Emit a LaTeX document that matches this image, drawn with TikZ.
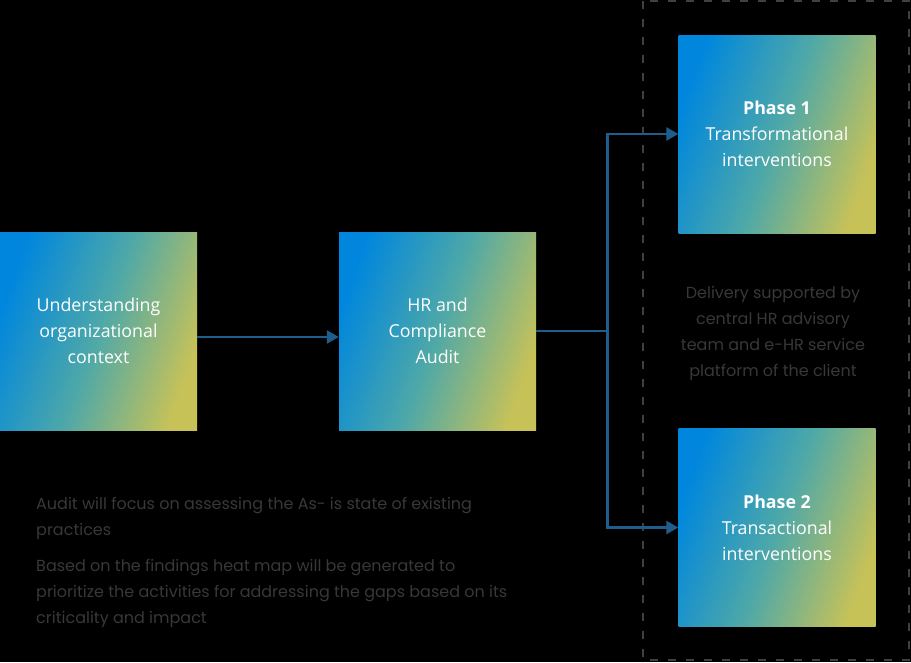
\documentclass[tikz,border=0pt]{standalone}
\usepackage{fontspec}
\setmainfont{Open Sans}
\newfontfamily\notefont{Poppins}
\usetikzlibrary{arrows.meta}

\definecolor{gblue}{RGB}{0,135,221}
\definecolor{gteal}{RGB}{78,168,168}
\definecolor{gyellow}{RGB}{199,194,88}
\definecolor{linkblue}{RGB}{31,94,140}
\definecolor{notegray}{RGB}{56,56,56}
\definecolor{dashgray}{RGB}{64,64,64}

\begin{document}
\begin{tikzpicture}[x=1pt,y=-1pt,
  stagebox/.style={minimum width=197pt,minimum height=198pt,inner sep=0pt,
    left color=gblue,right color=gyellow,middle color=gteal,shading angle=70,
    text=white,align=center,font=\fontsize{17.8}{26}\selectfont},
  link/.style={draw=linkblue,line width=2.6pt,-{Triangle[length=12pt,width=13pt]}},
  note/.style={text=notegray,font=\notefont\fontsize{16}{26}\selectfont,inner sep=0pt}]
\useasboundingbox[fill=black] (0,0) rectangle (911,662);

% delivery frame
\draw[dashgray,line width=1.5pt,dash pattern=on 8pt off 10pt] (643,0.75) rectangle (909,660);

\node[stagebox] (ctx) at (98.5,331) {Understanding\\organizational\\context};
\node[stagebox] (audit) at (437.5,331) {HR and\\Compliance\\Audit};
\node[stagebox] (ph1) at (777,134) {\textbf{Phase 1}\\Transformational\\interventions};
\node[stagebox] (ph2) at (777,527.5) {\textbf{Phase 2}\\Transactional\\interventions};

\draw[link] ([yshift=-6pt]ctx.east) -- ([yshift=-6pt]audit.west);
\draw[link] (audit.east) -- ++(71,0) coordinate (split) |- (ph1.west);
\draw[link] (split) |- (ph2.west);

\node[note,align=center] (delivery) at (773,333) {Delivery supported by\\central HR advisory\\team and e-HR service\\platform of the client};
\node[note,align=left,anchor=north west] (findings) at (36,497) {Audit will focus on assessing the As- is state of existing\\practices\\[10pt]Based on the findings heat map will be generated to\\prioritize the activities for addressing the gaps based on its\\criticality and impact};
\end{tikzpicture}
\end{document}
